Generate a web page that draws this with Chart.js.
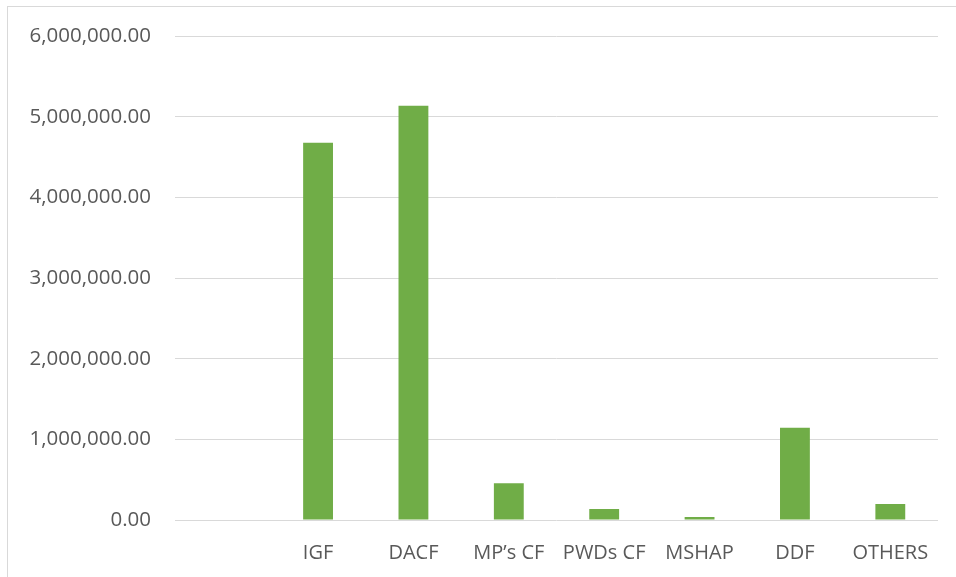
<!DOCTYPE html>
<html>
<head>
<meta charset="utf-8">
<script src="https://cdn.jsdelivr.net/npm/chart.js@4.4.1/dist/chart.umd.min.js"></script>
<style>
    html, body { margin: 0; padding: 0; background: #fff; }
    #wrap { position: relative; width: 956px; height: 577px; overflow: hidden; }
    #frame { position: absolute; left: 7px; top: 6px; width: 1000px; height: 1000px;
             border-left: 1px solid #d9d9d9; border-top: 1px solid #d9d9d9; }
    canvas { position: absolute; left: 0; top: 0; }
</style>
</head>
<body>
<div id="wrap">
    <div id="frame"></div>
    <canvas id="myChart" width="956" height="577"></canvas>
</div>
<script>
// categories and values
const categories = ['', 'IGF', 'DACF', 'MP\u2019s CF', 'PWDs CF', 'MSHAP', 'DDF', 'OTHERS'];
const amounts = [null, 4680000, 5140000, 455000, 135000, 37000, 1145000, 198000];
const yTicks = [0, 1000000, 2000000, 3000000, 4000000, 5000000, 6000000];

const data = {
    labels: categories,
    datasets: [{
        label: 'Amount',
        backgroundColor: '#70AD47',
        borderColor: '#70AD47',
        borderWidth: 0,
        categoryPercentage: 1,
        barPercentage: 0.313,
        data: amounts
    }]
};

const config = {
    type: 'bar',
    data: data,
    options: {
        responsive: false,
        animation: false,
        layout: {
            padding: { left: 25, right: 18, top: 35, bottom: 0 }
        },
        scales: {
            x: {
                grid: { display: false },
                border: { display: false },
                ticks: {
                    color: '#595959',
                    padding: 13,
                    maxRotation: 0,
                    autoSkip: false,
                    font: { family: 'Open Sans', size: 20 }
                },
                afterFit: function (scale) { scale.height = 57; }
            },
            y: {
                min: 0,
                max: 6000000,
                afterBuildTicks: function (scale) {
                    scale.ticks = yTicks.map(v => ({ value: v }));
                },
                grid: {
                    color: '#d9d9d9',
                    lineWidth: 1,
                    drawTicks: false
                },
                border: { display: false },
                ticks: {
                    color: '#595959',
                    padding: 24,
                    font: { family: 'Open Sans', size: 20.5 },
                    callback: v => v.toLocaleString('en-US', { minimumFractionDigits: 2, maximumFractionDigits: 2 })
                },
                afterFit: function (scale) { scale.width = 150; }
            }
        },
        plugins: {
            legend: false,
            tooltip: { enabled: false }
        }
    }
};

const myChart = new Chart(
    document.getElementById('myChart'),
    config
);
</script>
</body>
</html>
